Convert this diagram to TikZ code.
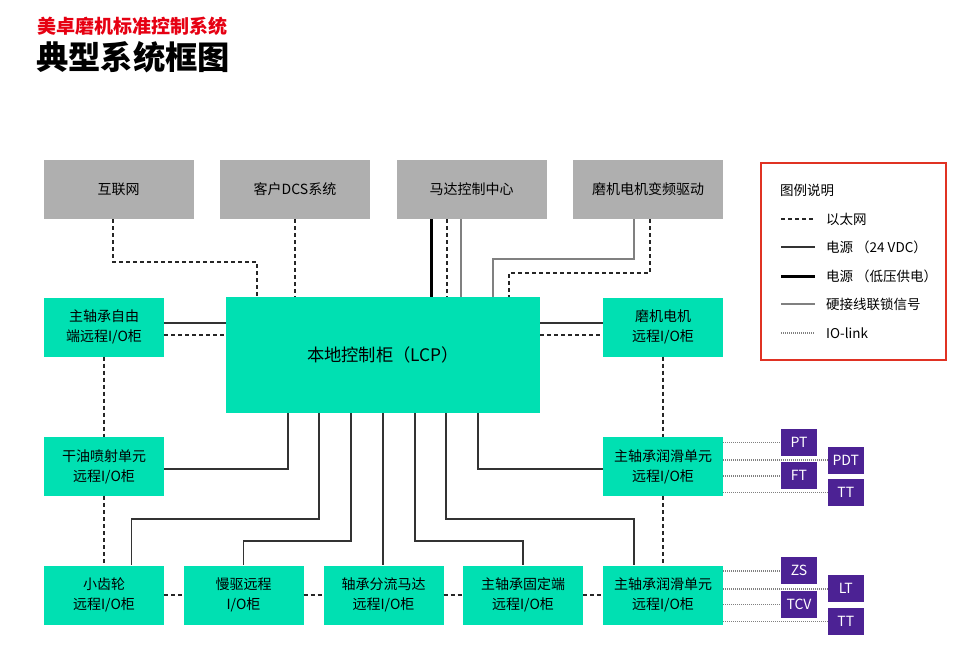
\documentclass[tikz,border=0pt]{standalone}
\usepackage{fontspec}
\setmainfont{Noto Sans CJK SC}
\usetikzlibrary{calc}
\definecolor{lcpgreen}{RGB}{0,224,178}
\definecolor{boxgray}{RGB}{175,175,175}
\definecolor{tagpurple}{RGB}{76,34,148}
\definecolor{titlered}{RGB}{230,0,18}
\definecolor{framered}{RGB}{224,50,35}
\tikzset{
  iobox/.style={fill=lcpgreen, minimum width=120pt, minimum height=59pt, inner sep=0pt,
    align=center, font=\fontsize{14}{20}\selectfont},
  extbox/.style={fill=boxgray, minimum width=150pt, minimum height=59pt, inner sep=0pt,
    font=\fontsize{14}{20}\selectfont},
  sensor/.style={fill=tagpurple, text=white, minimum width=36pt, minimum height=27pt,
    inner sep=0pt, font=\fontsize{14}{16}\selectfont},
  ethline/.style={draw=black!85, dash pattern=on 4pt off 3pt, line width=1.2pt},
  dcline/.style={draw=black!80, line width=1.3pt},
  lvline/.style={draw=black, line width=3pt},
  hwline/.style={draw=black!50, line width=1.2pt},
  iolink/.style={draw=black!50, dash pattern=on 1pt off 1pt, line width=1.5pt},
  legtext/.style={anchor=west, inner sep=0pt, font=\fontsize{13.5}{15}\selectfont}
}
\begin{document}
\begin{tikzpicture}[x=1pt,y=-1pt]
  \useasboundingbox (0,0) rectangle (980,656);
  \node[anchor=west, inner sep=0pt, text=titlered, font=\fontsize{19}{21}\bfseries] (sub) at (37,26) {美卓磨机标准控制系统};
  \node[anchor=west, inner sep=0pt, font=\fontsize{32.3}{35}\bfseries] (title) at (36,57) {典型系统框图};

  % external systems
  \node[extbox] (net) at (118.5,189.5) {互联网};
  \node[extbox] (dcs) at (295,189.5) {客户DCS系统};
  \node[extbox] (mcc) at (471.5,189.5) {马达控制中心};
  \node[extbox] (vfd) at (648,189.5) {磨机电机变频驱动};

  % cabinets
  \node[fill=lcpgreen, minimum width=314pt, minimum height=116pt, font=\fontsize{17.3}{20}\selectfont] (lcp) at (383,355) {本地控制柜（LCP）};
  \node[iobox] (freeio) at (104,327) {主轴承自由\\端远程I/O柜};
  \node[iobox] (motorio) at (663,327) {磨机电机\\远程I/O柜};
  \node[iobox] (oilio) at (104,466.5) {干油喷射单元\\远程I/O柜};
  \node[iobox] (lubeio) at (663,466.5) {主轴承润滑单元\\远程I/O柜};
  \node[iobox] (pinion) at (104,595) {小齿轮\\远程I/O柜};
  \node[iobox] (slow) at (243.5,595) {慢驱远程\\I/O柜};
  \node[iobox] (shunt) at (383.5,595) {轴承分流马达\\远程I/O柜};
  \node[iobox] (fixed) at (523,595) {主轴承固定端\\远程I/O柜};
  \node[iobox] (lubetwo) at (663,595) {主轴承润滑单元\\远程I/O柜};

  % top links
  \draw[ethline] (net.south -| 113,0) |- (257,262) -- (lcp.north -| 257,0);
  \draw[ethline] (dcs.south) -- (lcp.north -| dcs.south);
  \draw[lvline] (mcc.south -| 431,0) -- (lcp.north -| 431,0);
  \draw[ethline] (mcc.south -| 447,0) -- (lcp.north -| 447,0);
  \draw[hwline] (mcc.south -| 461,0) -- (lcp.north -| 461,0);
  \draw[hwline] (vfd.south -| 634,0) |- (493,259) -- (lcp.north -| 493,0);
  \draw[ethline] (vfd.south -| 650,0) |- (509,273) -- (lcp.north -| 509,0);

  % side links
  \draw[dcline] (freeio.east |- 0,323) -- (lcp.west |- 0,323);
  \draw[ethline] (freeio.east |- 0,335) -- (lcp.west |- 0,335);
  \draw[dcline] (lcp.east |- 0,323) -- (motorio.west |- 0,323);
  \draw[ethline] (lcp.east |- 0,335) -- (motorio.west |- 0,335);
  \draw[ethline] (freeio.south) -- (oilio.north) (oilio.south) -- (pinion.north);
  \draw[ethline] (motorio.south) -- (lubeio.north) (lubeio.south) -- (lubetwo.north);
  \draw[ethline] (pinion.east) -- (slow.west) (slow.east) -- (shunt.west)
    (shunt.east) -- (fixed.west) (fixed.east) -- (lubetwo.west);

  % power feeds
  \draw[dcline] (lcp.south -| 288,0) |- (oilio.east |- 0,469);
  \draw[dcline] (lcp.south -| 319,0) |- (131.5,519) -- (pinion.north -| 131.5,0);
  \draw[dcline] (lcp.south -| 351,0) |- (slow.north |- 0,541) -- (slow.north);
  \draw[dcline] (lcp.south -| 383,0) -- (shunt.north -| 383,0);
  \draw[dcline] (lcp.south -| 415,0) |- (fixed.north |- 0,541) -- (fixed.north);
  \draw[dcline] (lcp.south -| 446,0) |- (634,519) -- (lubetwo.north -| 634,0);
  \draw[dcline] (lcp.south -| 478,0) |- (lubeio.west |- 0,469);

  % field devices
  \foreach \nm/\txt/\x/\y/\src in {pt/PT/799/442.7/lubeio, pdt/PDT/845.8/460/lubeio,
      ft/FT/799/475.8/lubeio, tta/TT/845.8/492.7/lubeio, zs/ZS/799/570.8/lubetwo,
      lt/LT/845.8/588.8/lubetwo, tcv/TCV/799/604.7/lubetwo, ttb/TT/845.8/621.7/lubetwo} {
    \node[sensor] (\nm) at (\x,\y) {\txt};
    \draw[iolink] (\src.east |- \nm.west) -- (\nm.west);
  }

  % legend
  \draw[framered, line width=2pt] (761,163) rectangle (946,360);
  \node[legtext] (legtitle) at (780,190.5) {图例说明};
  \foreach \st/\y/\txt in {ethline/219/以太网, dcline/247/电源 （24 VDC）, lvline/276/电源 （低压供电）,
      hwline/304/硬接线联锁信号, iolink/333/IO-link} {
    \coordinate (ls\y) at (781,\y);
    \coordinate (le\y) at (815,\y);
    \draw[\st] (ls\y) -- (le\y);
    \node[legtext] at (826,\y) {\txt};
  }
\end{tikzpicture}
\end{document}
